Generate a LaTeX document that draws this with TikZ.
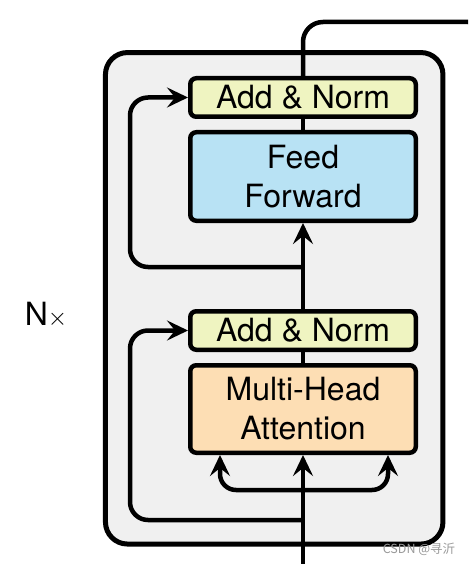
\documentclass[tikz,border=0pt]{standalone}
\usepackage{fontspec}
\setmainfont{TeX Gyre Heros}
\newfontfamily\cjk{Noto Sans CJK SC}
\usetikzlibrary{arrows.meta}

\definecolor{normcol}{RGB}{239,244,193}
\definecolor{ffcol}{RGB}{184,226,244}
\definecolor{attcol}{RGB}{253,222,180}
\definecolor{blockcol}{RGB}{240,240,240}

\begin{document}
\begin{tikzpicture}[x=1pt,y=-1pt,line width=4.5pt,
    box/.style={draw,rounded corners=6pt,minimum width=225.5pt,inner sep=0pt,
        align=center,font=\fontsize{32}{39}\selectfont},
    arr/.style={-{Stealth[length=21pt,width=20pt,inset=8pt]}}]
\clip (0,0) rectangle (468,564);
\node[draw,fill=blockcol,line width=5pt,rounded corners=22pt,
    minimum width=337.5pt,minimum height=491.5pt] (block) at (274.2,298.3) {};
\node[font=\fontsize{32}{32}\selectfont] (nx) at (46,315) {N$\times$};
\node[box,fill=normcol,minimum height=38.5pt] (norm2) at (303,97.5) {Add \& Norm};
\node[box,fill=ffcol,minimum height=88.5pt] (ff) at (303,176.5) {Feed\\Forward};
\node[box,fill=normcol,minimum height=38.5pt] (norm1) at (303,330.5) {Add \& Norm};
\node[box,fill=attcol,minimum height=87.5pt] (mha) at (303,409) {Multi-Head\\Attention};
\coordinate (in) at (303,570);
\coordinate (split) at (303,490);
\coordinate (res1) at (303,520);
\coordinate (res2) at (303,267);
\coordinate (top) at (488,22);
\coordinate (out) at (488,90);
% sub-layer 1
\draw[arr] (in) -- (mha.south);
\draw[arr,rounded corners=16pt] (split) -| ([xshift=-83pt]mha.south);
\draw[arr,rounded corners=16pt] (split) -| ([xshift=85pt]mha.south);
\draw (mha) -- (norm1);
\draw[arr,rounded corners=18pt] (res1) -| ([xshift=-58pt]norm1.west) -- (norm1.west);
% sub-layer 2
\draw[arr] (norm1) -- (ff);
\draw (ff) -- (norm2);
\draw[arr,rounded corners=18pt] (res2) -| ([xshift=-58pt]norm2.west) -- (norm2.west);
\draw[rounded corners=20pt] (norm2.north) |- (top) -- (out);
\node[text=gray!80,font=\cjk\fontsize{12.5}{12.5}\selectfont] (mark) at (419,549) {CSDN @寻沂};
\end{tikzpicture}
\end{document}
